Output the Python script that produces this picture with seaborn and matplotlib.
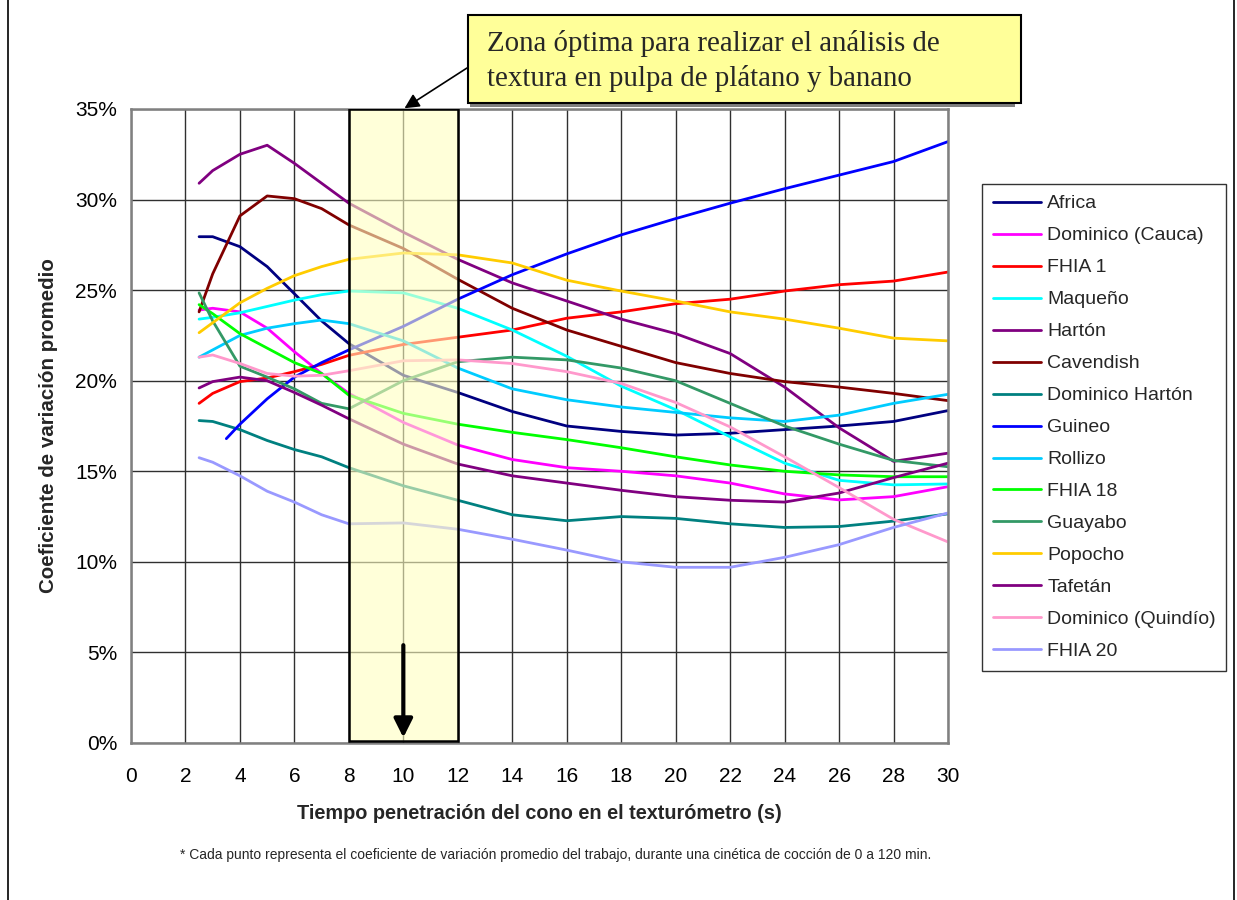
import matplotlib
matplotlib.use("Agg")
import matplotlib.pyplot as plt
import numpy as np
import pandas as pd
import seaborn as sns
from matplotlib.patches import Rectangle
from matplotlib.lines import Line2D
from matplotlib.ticker import PercentFormatter, MultipleLocator

# ---------------- data (coefficient of variation, %) ----------------
X = [2.5, 3, 4, 5, 6, 7, 8, 10, 12, 14, 16, 18, 20, 22, 24, 26, 28, 30]
X_GUINEO = [3.5, 4, 5, 6, 7, 8, 10, 12, 14, 16, 18, 20, 22, 24, 26, 28, 30]

africa = [27.95, 27.95, 27.4, 26.3, 24.8, 23.3, 22.05, 20.3, 19.35, 18.3, 17.5, 17.2, 17.0, 17.1, 17.3, 17.5, 17.75, 18.35]
dominico_cauca = [23.9, 24.0, 23.8, 22.9, 21.6, 20.4, 19.3, 17.7, 16.45, 15.65, 15.2, 15.0, 14.75, 14.35, 13.75, 13.42, 13.6, 14.15]
fhia1 = [18.75, 19.3, 19.95, 20.15, 20.5, 20.9, 21.4, 22.0, 22.4, 22.8, 23.45, 23.8, 24.25, 24.5, 24.95, 25.3, 25.5, 26.0]
maqueno = [23.4, 23.5, 23.75, 24.1, 24.45, 24.75, 24.95, 24.85, 24.0, 22.8, 21.35, 19.7, 18.4, 16.9, 15.45, 14.5, 14.25, 14.3]
harton = [30.9, 31.6, 32.5, 33.0, 32.0, 30.9, 29.8, 28.2, 26.7, 25.4, 24.4, 23.4, 22.6, 21.5, 19.65, 17.4, 15.55, 16.0]
cavendish = [23.8, 25.9, 29.1, 30.2, 30.05, 29.5, 28.6, 27.3, 25.6, 24.0, 22.8, 21.9, 21.0, 20.4, 19.95, 19.65, 19.3, 18.9]
dominico_harton = [17.8, 17.75, 17.3, 16.7, 16.2, 15.8, 15.2, 14.2, 13.4, 12.6, 12.27, 12.5, 12.4, 12.1, 11.9, 11.95, 12.25, 12.65]
guineo = [16.8, 17.6, 19.0, 20.2, 21.0, 21.7, 23.0, 24.5, 25.85, 27.0, 28.05, 28.95, 29.8, 30.6, 31.35, 32.1, 33.2]
rollizo = [21.3, 21.7, 22.5, 22.9, 23.15, 23.35, 23.15, 22.2, 20.7, 19.55, 18.95, 18.55, 18.25, 17.95, 17.75, 18.1, 18.75, 19.25]
fhia18 = [24.2, 23.7, 22.6, 21.8, 21.0, 20.4, 19.2, 18.2, 17.6, 17.15, 16.75, 16.3, 15.8, 15.35, 15.0, 14.8, 14.7, 14.7]
guayabo = [24.85, 23.3, 20.8, 20.2, 19.55, 18.75, 18.45, 20.0, 21.05, 21.3, 21.15, 20.7, 20.0, 18.75, 17.5, 16.5, 15.6, 15.25]
popocho = [22.65, 23.2, 24.3, 25.1, 25.8, 26.3, 26.7, 27.05, 26.95, 26.5, 25.55, 24.95, 24.4, 23.8, 23.4, 22.9, 22.35, 22.2]
tafetan = [19.6, 19.95, 20.2, 20.0, 19.35, 18.65, 17.9, 16.5, 15.4, 14.75, 14.35, 13.95, 13.6, 13.4, 13.3, 13.8, 14.65, 15.45]
dominico_quindio = [21.3, 21.42, 20.95, 20.4, 20.25, 20.3, 20.55, 21.1, 21.15, 20.95, 20.5, 19.85, 18.8, 17.45, 15.8, 14.1, 12.35, 11.1]
fhia20 = [15.75, 15.5, 14.75, 13.9, 13.3, 12.6, 12.1, 12.15, 11.8, 11.25, 10.65, 10.0, 9.7, 9.7, 10.25, 10.95, 11.9, 12.7]

names = ["Africa", "Dominico (Cauca)", "FHIA 1", "Maqueño", "Hartón", "Cavendish",
         "Dominico Hartón", "Guineo", "Rollizo", "FHIA 18", "Guayabo", "Popocho",
         "Tafetán", "Dominico (Quindío)", "FHIA 20"]
values = [africa, dominico_cauca, fhia1, maqueno, harton, cavendish, dominico_harton,
          guineo, rollizo, fhia18, guayabo, popocho, tafetan, dominico_quindio, fhia20]
colors = ["#000080", "#FF00FF", "#FF0000", "#00FFFF", "#800080", "#800000",
          "#008080", "#0000FF", "#00CCFF", "#00FF00", "#339966", "#FFCC00",
          "#800080", "#FF99CC", "#9999FF"]

ZONE = (8, 12)
ARROW_X = 10

annotation_text = "Zona óptima para realizar el análisis de\ntextura en pulpa de plátano y banano"
xlabel = "Tiempo penetración del cono en el texturómetro (s)"
ylabel = "Coeficiente de variación promedio"
footnote = ("* Cada punto representa el coeficiente de variación promedio del trabajo, "
            "durante una cinética de cocción de 0 a 120 min.")

rows = []
for n, v in zip(names, values):
    xs = X_GUINEO if n == "Guineo" else X
    for xx, yy in zip(xs, v):
        rows.append({"t": xx, "cv": yy, "variedad": n})
df = pd.DataFrame(rows)

# ---------------- style ----------------
sns.set_theme(style="white")
plt.rcParams["font.family"] = ["Liberation Sans", "DejaVu Sans"]

W, H = 1237, 900
fig = plt.figure(figsize=(W / 100, H / 100), dpi=100)
fig.patch.set_facecolor("white")
ax = fig.add_axes([131 / W, 1 - 743 / H, (948 - 131) / W, (743 - 109) / H])

sns.lineplot(data=df, x="t", y="cv", hue="variedad", hue_order=names,
             palette=dict(zip(names, colors)), estimator=None, sort=False,
             units="variedad", linewidth=2.0, ax=ax, legend=False, zorder=2)

ax.set_xlim(0, 30)
ax.set_ylim(0, 35)
ax.xaxis.set_major_locator(MultipleLocator(2))
ax.yaxis.set_major_locator(MultipleLocator(5))
ax.yaxis.set_major_formatter(PercentFormatter(xmax=100, decimals=0))
ax.grid(True, color="#303030", linewidth=1.0, zorder=1)
ax.set_axisbelow(True)
for s in ax.spines.values():
    s.set_color("#808080")
    s.set_linewidth(1.8)
ax.tick_params(axis="both", direction="out", length=6, width=1.2, color="#808080",
               labelsize=15, pad=4, labelcolor="black")
ax.tick_params(axis="x", pad=11)
ax.set_xlabel(xlabel, fontsize=14.3, fontweight="bold", labelpad=13)
ax.set_ylabel(ylabel, fontsize=14.8, fontweight="bold", labelpad=12)

# optimal zone overlay
ax.add_patch(Rectangle((ZONE[0], 0.1), ZONE[1] - ZONE[0], 34.9,
                       facecolor="#FFFFC0", alpha=0.6, edgecolor="none", zorder=3))
ax.add_patch(Rectangle((ZONE[0], 0.1), ZONE[1] - ZONE[0], 34.9,
                       facecolor="none", edgecolor="black", linewidth=1.8, zorder=4))
ax.annotate("", xy=(ARROW_X, 0.3), xytext=(ARROW_X, 5.4),
            arrowprops=dict(arrowstyle="-|>", color="black", lw=3.0,
                            mutation_scale=28, shrinkA=0, shrinkB=0), zorder=5)

# callout box
fig.patches.append(Rectangle((470 / W, 1 - 107 / H), 545 / W, 6 / H,
                             transform=fig.transFigure, facecolor="#808080",
                             edgecolor="none", zorder=1))
fig.patches.append(Rectangle((468 / W, 1 - 103 / H), 553 / W, 88 / H,
                             transform=fig.transFigure, facecolor="#FFFF99",
                             edgecolor="black", linewidth=1.5, zorder=2))
fig.text(487 / W, 1 - 30 / H, annotation_text, fontsize=20.8, va="top", ha="left",
         family=["Liberation Serif", "DejaVu Serif"], linespacing=1.36, zorder=3)
ax.annotate("", xy=(ARROW_X, 35), xycoords="data",
            xytext=(467 / W, 1 - 68 / H), textcoords="figure fraction",
            arrowprops=dict(arrowstyle="-|>", color="black", lw=1.2,
                            mutation_scale=22, shrinkA=0, shrinkB=1),
            annotation_clip=False, zorder=6)

# legend
handles = [Line2D([0], [0], color=c, lw=2.0) for c in colors]
leg = fig.legend(handles, names, loc="upper left", bbox_to_anchor=(982 / W, 1 - 184 / H),
                 frameon=True, fancybox=False, shadow=False, fontsize=14,
                 handlelength=2.5, handletextpad=0.3, labelspacing=0.74,
                 borderpad=0.55, borderaxespad=0)
leg.get_frame().set_edgecolor("black")
leg.get_frame().set_linewidth(1.0)

# footnote
fig.text(556 / W, 1 - 855 / H, footnote, fontsize=10, ha="center", va="center")

# chart-area border lines
fig.add_artist(Line2D([8 / W, 8 / W], [0, 1], color="black", lw=1.2, transform=fig.transFigure))
fig.add_artist(Line2D([1234 / W, 1234 / W], [0, 1], color="black", lw=1.2, transform=fig.transFigure))

fig.savefig("out.png", dpi=100)
